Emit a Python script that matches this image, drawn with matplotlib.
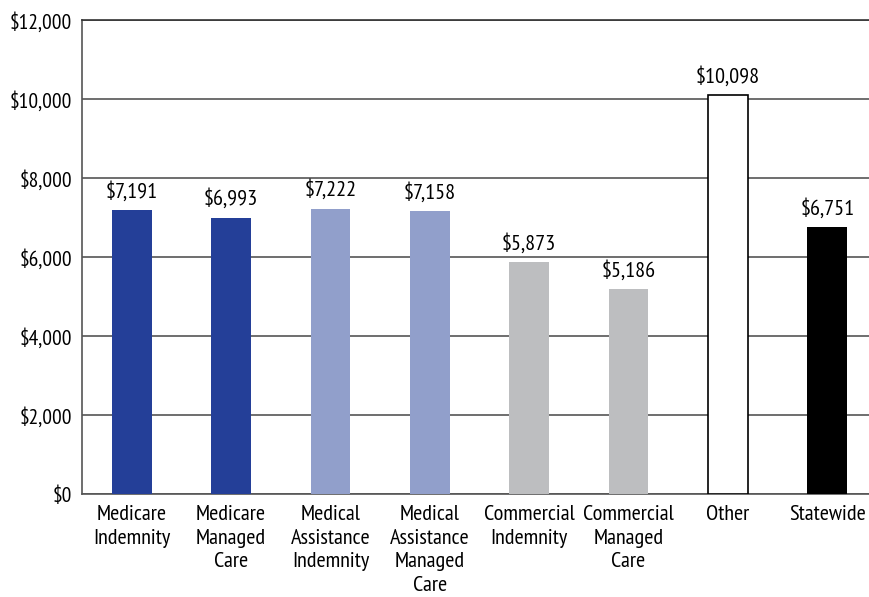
import numpy as np
import matplotlib as mpl
import matplotlib.pyplot as plt

mpl.rcParams['font.family'] = ['PT Sans Narrow', 'DejaVu Sans']

categories = ["Medicare\nIndemnity", "Medicare\nManaged\nCare", "Medical\nAssistance\nIndemnity",
              "Medical\nAssistance\nManaged\nCare", "Commercial\nIndemnity", "Commercial\nManaged\nCare",
              "Other", "Statewide"]
values = [7191, 6993, 7222, 7158, 5873, 5186, 10098, 6751]
colors = ["#243f98", "#243f98", "#919fcb", "#919fcb", "#bdbec0", "#bdbec0", "white", "black"]

fig = plt.figure(figsize=(8.7, 5.97), dpi=100)
ax = fig.add_axes([82/870, 1 - 494/597, (870 - 82)/870, (494 - 20)/597])

x = np.arange(len(values))
ax.bar(x, values, width=0.4, color=colors, edgecolor=["none"] * 6 + ["black", "none"], linewidth=1.2, zorder=3)

for xi, v in zip(x, values):
    ax.text(xi, v + 220, f"${v:,}", ha="center", va="bottom", fontsize=16)

ax.set_ylim(0, 12000)
ax.set_xlim(-0.5, 7.43)
ax.set_yticks(np.arange(0, 12001, 2000))
ax.set_yticklabels([f"${t:,}" for t in range(0, 12001, 2000)], fontsize=15.5)
ax.set_xticks(x)
ax.set_xticklabels(categories, fontsize=16, va="top", linespacing=1.3)
ax.tick_params(axis="x", length=0, pad=8)
ax.tick_params(axis="y", length=0, pad=7)
ax.yaxis.grid(True, color="#555555", linewidth=1.2, zorder=0)
ax.set_axisbelow(True)

ax.spines["right"].set_visible(False)
ax.spines["top"].set_color("#333333")
ax.spines["left"].set_color("#555555")
ax.spines["bottom"].set_color("#555555")
for s in ax.spines.values():
    s.set_linewidth(1.2)

fig.savefig("out.png", dpi=100)
